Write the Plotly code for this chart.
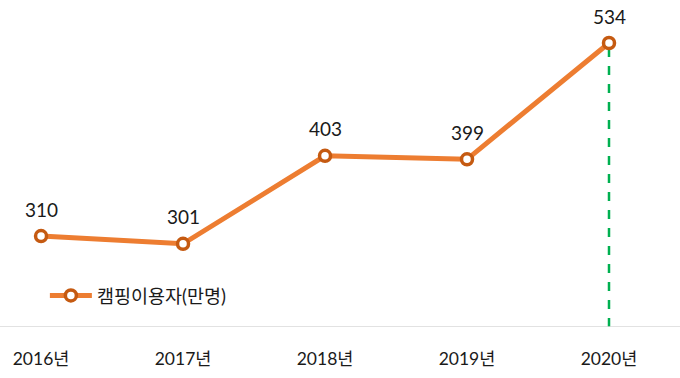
import plotly.graph_objects as go

years = ["2016년", "2017년", "2018년", "2019년", "2020년"]
users = [310, 301, 403, 399, 534]
series_name = "캠핑이용자(만명)"

LINE = "#ED7D31"
EDGE = "#C55A11"
FONT = "Lato, 'Noto Sans CJK KR', sans-serif"

fig = go.Figure()
fig.add_trace(go.Scatter(
    x=years, y=users, name=series_name, mode="lines+markers",
    line=dict(color=LINE, width=5),
    marker=dict(size=11, color="white", line=dict(color=EDGE, width=3.5)),
    showlegend=True,
))

for xv, yv in zip(years, users):
    fig.add_annotation(x=xv, y=yv, text=str(yv), showarrow=False,
                       yshift=27, font=dict(size=19, color="#1a1a1a", family=FONT))

fig.add_shape(type="line", xref="x", yref="y", x0=years[-1], x1=years[-1],
              y0=204.4, y1=users[-1], line=dict(color="#00B050", width=2.5, dash="dash"),
              layer="below")

fig.update_layout(
    width=680, height=378,
    margin=dict(l=0, r=0, t=0, b=51, autoexpand=False),
    paper_bgcolor="white", plot_bgcolor="white",
    font=dict(family=FONT, color="#1a1a1a"),
    xaxis=dict(type="category", range=[-0.289, 4.5], showgrid=False, zeroline=False,
               showline=False, ticks="", tickfont=dict(size=17.5, color="#1a1a1a"),
               ticklabelstandoff=19, automargin=False),
    yaxis=dict(range=[204.4, 583.9], visible=False, automargin=False),
    legend=dict(x=0.066, y=0.095, xanchor="left", yanchor="middle", itemwidth=42,
                font=dict(size=18.5, color="#1a1a1a"), bgcolor="rgba(0,0,0,0)"),
    showlegend=True,
)
fig.add_shape(type="line", xref="paper", yref="y", x0=0, x1=1, y0=204.4, y1=204.4,
              line=dict(color="#d9d9d9", width=1.5))

fig.write_html("out.html", post_script="document.body.style.margin='0';",
               config={"displayModeBar": False})
